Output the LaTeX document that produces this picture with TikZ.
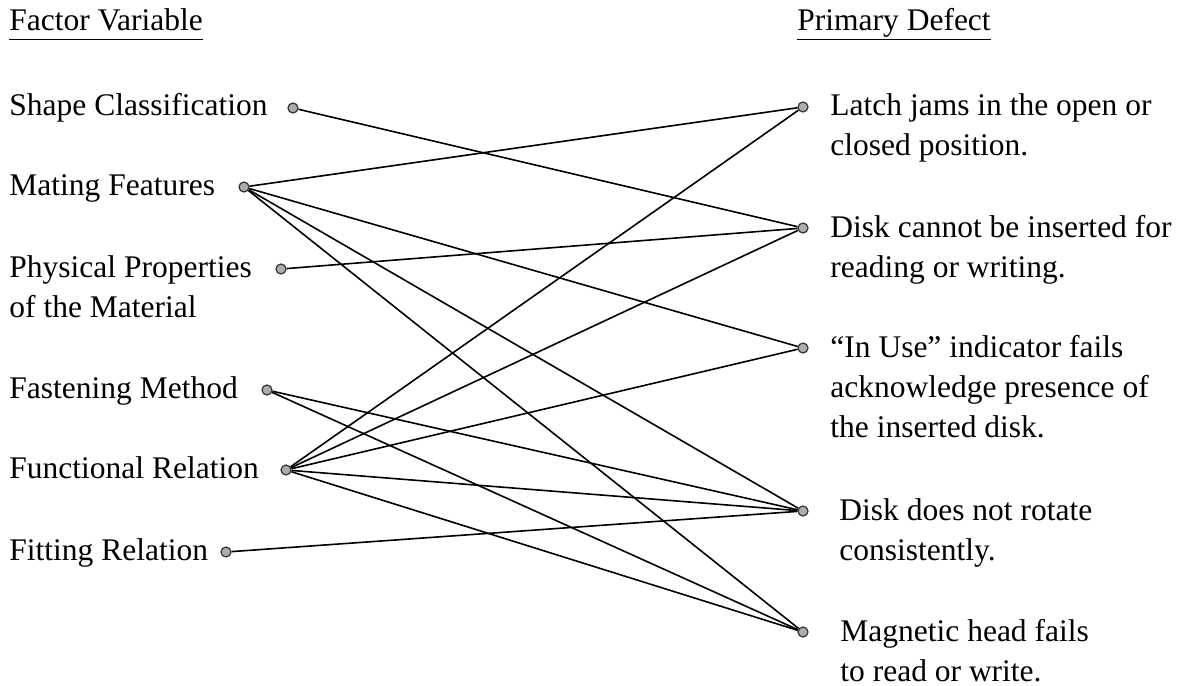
\documentclass[tikz,border=0pt]{standalone}
\usepackage{fontspec}
\setmainfont{Liberation Serif}
\usepackage{tikz}
\usetikzlibrary{positioning}

\newcommand{\headline}[1]{\underline{#1\vphantom{y}}}

\tikzset{
  factor/.style={anchor=base west, inner sep=0pt, align=left},
  defect/.style={anchor=base west, inner sep=0pt, align=left},
  pin/.style={circle, draw=black!80, fill=gray!65, line width=0.6pt, inner sep=0pt, minimum size=5pt},
  link/.style={black, line width=0.8pt}
}

\begin{document}
\begin{tikzpicture}[x=0.5pt, y=-0.5pt, font=\fontsize{15.75}{20}\selectfont]
                \useasboundingbox (0,0) rectangle (1197,685);
                % headings
                \node[factor] (hfactor) at (9,30) {\headline{Factor Variable}};
                \node[defect] (hdefect) at (797,30) {\headline{Primary Defect}};
                % factor variables, left column (base = last line)
                \node[factor] (tshape) at (9,115) {Shape Classification};
                \node[factor] (tmating) at (9,195) {Mating Features};
                \node[factor] (tphys) at (9,317) {Physical Properties\\of the Material};
                \node[factor] (tfasten) at (9,398) {Fastening Method};
                \node[factor] (tfunc) at (9,478) {Functional Relation};
                \node[factor] (tfit) at (9,560) {Fitting Relation};
                \node[pin] (shape) at (293,108) {};
                \node[pin] (mating) at (244,187) {};
                \node[pin] (phys) at (281,269) {};
                \node[pin] (fasten) at (267,390) {};
                \node[pin] (func) at (286,470) {};
                \node[pin] (fit) at (226,552) {};
                % primary defects, right column
                \node[defect] (tlatch) at (830,155) {Latch jams in the open or\\closed position.};
                \node[defect] (tinsert) at (830,277) {Disk cannot be inserted for\\reading or writing.};
                \node[defect] (tinuse) at (830,437) {``In Use'' indicator fails\\acknowledge presence of\\the inserted disk.};
                \node[defect] (trotate) at (839,560) {Disk does not rotate\\consistently.};
                \node[defect] (thead) at (840,681) {Magnetic head fails\\to read or write.};
                \node[pin] (latch) at (803,107) {};
                \node[pin] (insert) at (803,228) {};
                \node[pin] (inuse) at (803,348) {};
                \node[pin] (rotate) at (803,511) {};
                \node[pin] (head) at (803,632) {};
                % connections
                \foreach \a/\b in {shape/insert, mating/latch, mating/inuse, mating/rotate, mating/head,
                                   phys/insert, fasten/rotate, fasten/head,
                                   func/latch, func/insert, func/inuse, func/rotate, func/head,
                                   fit/rotate} {
                        \draw[link] (\a) -- (\b);
                    }
            \end{tikzpicture}
\end{document}
